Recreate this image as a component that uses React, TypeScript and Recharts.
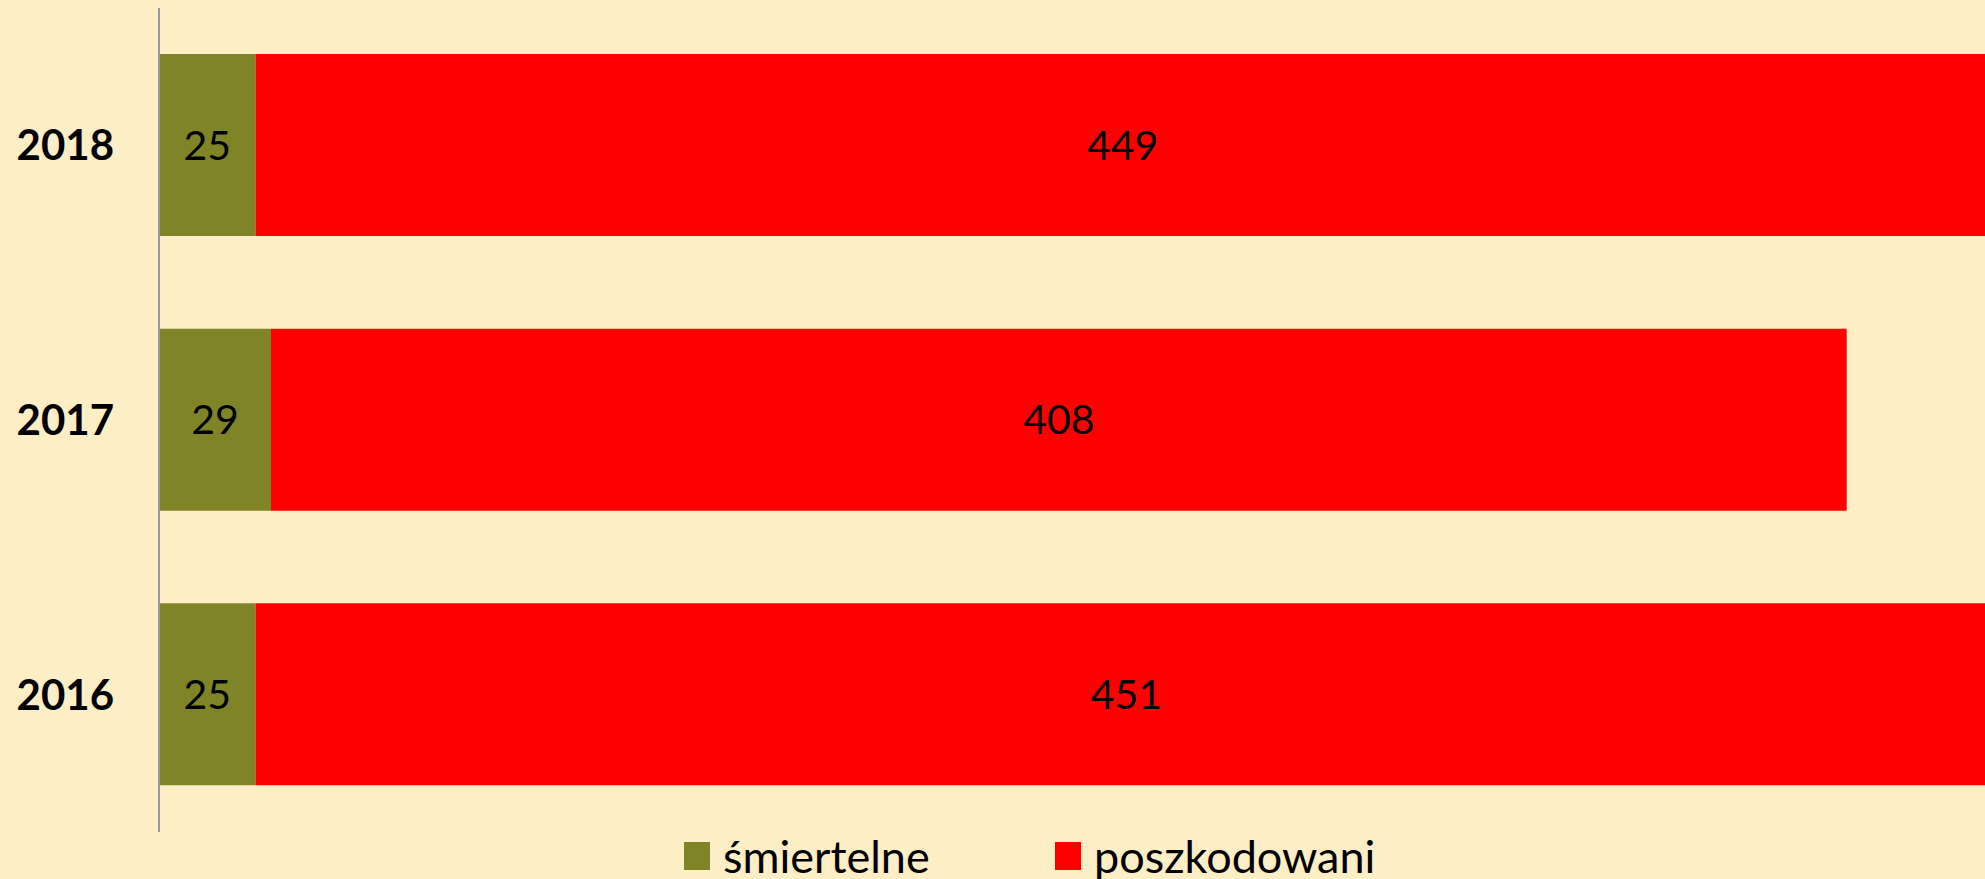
import { BarChart, Bar, XAxis, YAxis, Legend, LabelList } from "recharts"

const years = ["2018", "2017", "2016"]
const smiertelne = [25, 29, 25]
const poszkodowani = [449, 408, 451]

const GREEN = "#7F8427"
const RED = "#FF0000"
const BG = "#FDEEC6"
const FONT = "Lato, 'Noto Sans', sans-serif"

const data = years.map((year, i) => ({
  year,
  smiertelne: smiertelne[i],
  poszkodowani: poszkodowani[i],
}))

const legendItems = [
  { name: "śmiertelne", color: GREEN },
  { name: "poszkodowani", color: RED },
]

function ChartLegend() {
  return (
    <div style={{ display: "flex", height: 40, fontFamily: FONT, fontSize: 45 }}>
      {legendItems.map((item) => (
        <div key={item.name} style={{ display: "flex", alignItems: "center", width: 371 }}>
          <span style={{ width: 26, height: 28, background: item.color, marginRight: 13 }} />
          <span style={{ color: "#000", lineHeight: "40px" }}>{item.name}</span>
        </div>
      ))}
    </div>
  )
}

export default function App() {
  return (
    <div
      style={{
        position: "fixed",
        top: 0,
        left: 0,
        width: 1985,
        height: 879,
        overflow: "hidden",
        background: BG,
      }}
    >
      <BarChart
        width={2100}
        height={879}
        data={data}
        layout="vertical"
        margin={{ top: 8, right: 10, bottom: 7, left: 0 }}
      >
        <XAxis type="number" domain={[0, 500]} hide />
        <YAxis
          type="category"
          dataKey="year"
          width={159}
          axisLine={{ stroke: "#999999", strokeWidth: 2 }}
          tickLine={false}
          tickSize={0}
          tickMargin={45}
          tick={{ fill: "#000", fontSize: 42, fontWeight: 700, fontFamily: FONT }}
        />
        <Legend
          verticalAlign="bottom"
          content={<ChartLegend />}
          wrapperStyle={{ left: 684, top: 836, width: "auto" }}
        />
        <Bar dataKey="smiertelne" stackId="a" fill={GREEN} barSize={182} isAnimationActive={false}>
          <LabelList dataKey="smiertelne" position="center" fill="#000" fontSize={41} fontFamily={FONT} />
        </Bar>
        <Bar dataKey="poszkodowani" stackId="a" fill={RED} barSize={182} isAnimationActive={false}>
          <LabelList dataKey="poszkodowani" position="center" fill="#000" fontSize={41} fontFamily={FONT} />
        </Bar>
      </BarChart>
    </div>
  )
}
